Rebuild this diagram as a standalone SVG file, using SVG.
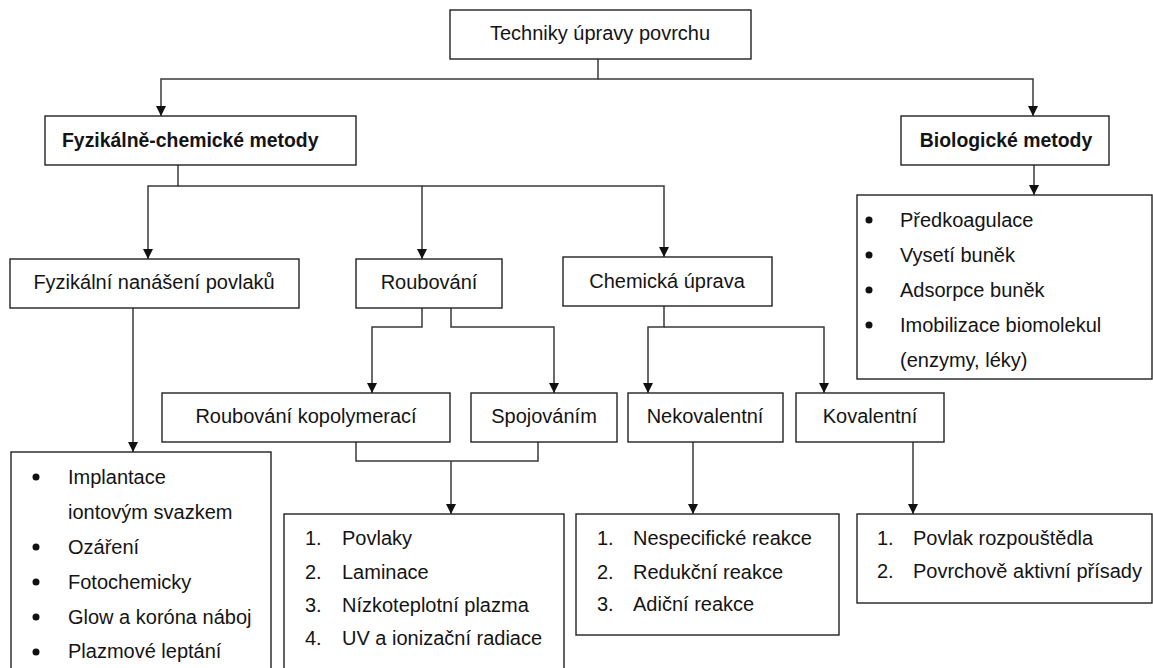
<svg xmlns="http://www.w3.org/2000/svg" width="1153" height="668" viewBox="0 0 1153 668">
<style>
.box{fill:#fff;stroke:#222;stroke-width:1.4}
.t{font-family:"Liberation Sans",Arial,sans-serif;font-size:20px;fill:#141414}
.c{text-anchor:middle}
.b{font-weight:bold;font-size:19.4px}
.ln{fill:none;stroke:#3a3a3a;stroke-width:1.5}
.dot{fill:#111}
</style>
<defs>
<marker id="ah" markerUnits="userSpaceOnUse" markerWidth="11" markerHeight="12" refX="10" refY="5.5" orient="auto" viewBox="0 0 11 12">
<path d="M0,0.5 L10,5.5 L0,10.5 z" fill="#111"/>
</marker>
</defs>
<rect width="1153" height="668" fill="#fff"/>
<g id="connectors">
<path class="ln" d="M598,59 V79 H161 V116" marker-end="url(#ah)"/>
<path class="ln" d="M598,79 H1033 V116" marker-end="url(#ah)"/>
<path class="ln" d="M1034,165 V195" marker-end="url(#ah)"/>
<path class="ln" d="M178,165 V186 H148 V259" marker-end="url(#ah)"/>
<path class="ln" d="M178,186 H422 V259" marker-end="url(#ah)"/>
<path class="ln" d="M422,186 H664 V257" marker-end="url(#ah)"/>
<path class="ln" d="M133,308 V452" marker-end="url(#ah)"/>
<path class="ln" d="M422,308 V327 H372 V393" marker-end="url(#ah)"/>
<path class="ln" d="M451,308 V327 H554 V393" marker-end="url(#ah)"/>
<path class="ln" d="M664,306 V327 H648 V393" marker-end="url(#ah)"/>
<path class="ln" d="M664,327 H824 V393" marker-end="url(#ah)"/>
<path class="ln" d="M356,442 V461 H538 V442"/>
<path class="ln" d="M451,461 V514" marker-end="url(#ah)"/>
<path class="ln" d="M693,442 V514" marker-end="url(#ah)"/>
<path class="ln" d="M913,442 V514" marker-end="url(#ah)"/>
</g>
<g id="root">
<rect class="box" x="450" y="10" width="301" height="49"/>
<text class="t c" x="600" y="40">Techniky úpravy povrchu</text>
</g>
<g id="fyzchem">
<rect class="box" x="45" y="116" width="311" height="49"/>
<text class="t b" x="62" y="147">Fyzikálně-chemické metody</text>
</g>
<g id="bio">
<rect class="box" x="901" y="116" width="208" height="49"/>
<text class="t b c" x="1006" y="147">Biologické metody</text>
</g>
<g id="biolist">
<rect class="box" x="857" y="195" width="295" height="184"/>
<circle class="dot" cx="869" cy="220" r="3.5"/>
<circle class="dot" cx="869" cy="255" r="3.5"/>
<circle class="dot" cx="869" cy="290" r="3.5"/>
<circle class="dot" cx="869" cy="325" r="3.5"/>
<text class="t" x="900" y="227">Předkoagulace</text>
<text class="t" x="900" y="262">Vysetí buněk</text>
<text class="t" x="900" y="297">Adsorpce buněk</text>
<text class="t" x="900" y="332">Imobilizace biomolekul</text>
<text class="t" x="900" y="367">(enzymy, léky)</text>
</g>
<g id="fyzikalni">
<rect class="box" x="10" y="259" width="289" height="49"/>
<text class="t c" x="154" y="289">Fyzikální nanášení povlaků</text>
</g>
<g id="roubovani">
<rect class="box" x="356" y="259" width="146" height="49"/>
<text class="t c" x="429" y="289">Roubování</text>
</g>
<g id="chemicka">
<rect class="box" x="563" y="257" width="209" height="49"/>
<text class="t c" x="667" y="288">Chemická úprava</text>
</g>
<g id="kopolymeraci">
<rect class="box" x="162" y="393" width="288" height="49"/>
<text class="t c" x="306" y="423">Roubování kopolymerací</text>
</g>
<g id="spojovanim">
<rect class="box" x="471" y="393" width="146" height="49"/>
<text class="t c" x="544" y="423">Spojováním</text>
</g>
<g id="nekovalentni">
<rect class="box" x="628" y="393" width="155" height="49"/>
<text class="t c" x="705" y="423">Nekovalentní</text>
</g>
<g id="kovalentni">
<rect class="box" x="796" y="393" width="148" height="49"/>
<text class="t c" x="870" y="423">Kovalentní</text>
</g>
<g id="fyzlist">
<rect class="box" x="11" y="452" width="260" height="230"/>
<circle class="dot" cx="36" cy="477" r="3.5"/>
<circle class="dot" cx="36" cy="547" r="3.5"/>
<circle class="dot" cx="36" cy="582" r="3.5"/>
<circle class="dot" cx="36" cy="617" r="3.5"/>
<circle class="dot" cx="36" cy="652" r="3.5"/>
<text class="t" x="68" y="484">Implantace</text>
<text class="t" x="68" y="519">iontovým svazkem</text>
<text class="t" x="68" y="554">Ozáření</text>
<text class="t" x="68" y="589">Fotochemicky</text>
<text class="t" x="68" y="624">Glow a koróna náboj</text>
<text class="t" x="68" y="658">Plazmové leptání</text>
</g>
<g id="roublist">
<rect class="box" x="284" y="514" width="280" height="170"/>
<text class="t" x="305" y="545">1.</text>
<text class="t" x="342" y="545">Povlaky</text>
<text class="t" x="305" y="579">2.</text>
<text class="t" x="342" y="579">Laminace</text>
<text class="t" x="305" y="612">3.</text>
<text class="t" x="342" y="612">Nízkoteplotní plazma</text>
<text class="t" x="305" y="645">4.</text>
<text class="t" x="342" y="645">UV a ionizační radiace</text>
</g>
<g id="nekolist">
<rect class="box" x="576" y="514" width="263" height="121"/>
<text class="t" x="597" y="545">1.</text>
<text class="t" x="633" y="545">Nespecifické reakce</text>
<text class="t" x="597" y="579">2.</text>
<text class="t" x="633" y="579">Redukční reakce</text>
<text class="t" x="597" y="611">3.</text>
<text class="t" x="633" y="611">Adiční reakce</text>
</g>
<g id="kovlist">
<rect class="box" x="857" y="514" width="295" height="89"/>
<text class="t" x="877" y="545">1.</text>
<text class="t" x="913" y="545">Povlak rozpouštědla</text>
<text class="t" x="877" y="578">2.</text>
<text class="t" x="913" y="578">Povrchově aktivní přísady</text>
</g>
</svg>
